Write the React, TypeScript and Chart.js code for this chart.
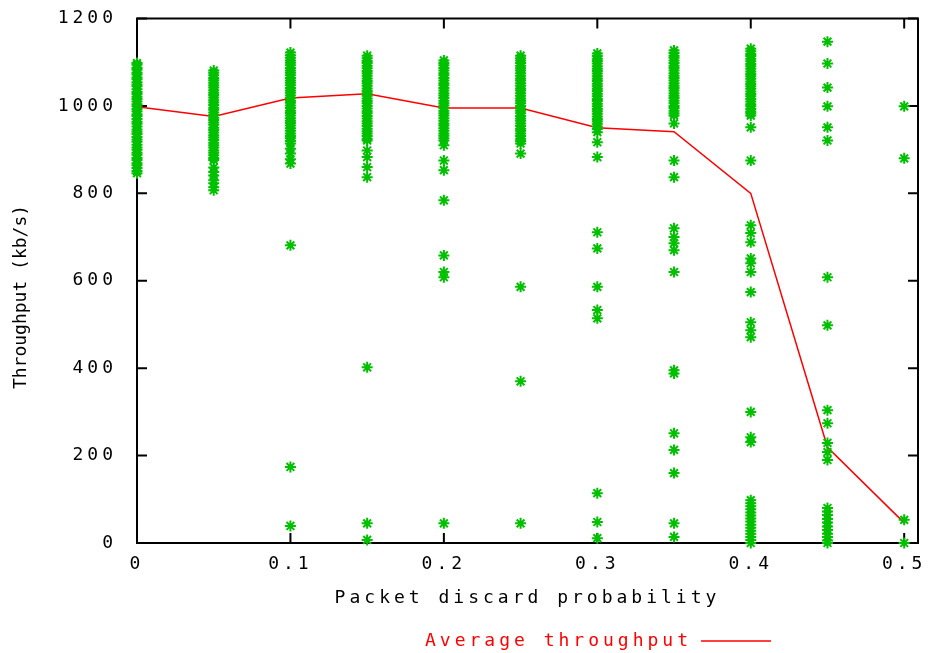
import React, { useEffect, useRef } from "react";
import { Chart, registerables } from "chart.js";

Chart.register(...registerables);

// ---- data ----
const xTickValues = [0, 0.1, 0.2, 0.3, 0.4, 0.5];
const yTickStep = 200;

const avgX = [0, 0.05, 0.1, 0.15, 0.2, 0.25, 0.3, 0.35, 0.4, 0.45, 0.5];
const avgThroughput = [998, 976, 1018, 1028, 995, 995, 950, 941, 800, 219, 46];

const samplesAt000 = [1098, 1094, 1087, 1083, 1076, 1072, 1065, 1061, 1054, 1049, 1045, 1038, 1032, 1027, 1021, 1016, 1010, 1004, 999, 993, 988, 981, 977, 970, 964, 959, 953, 946, 941, 936, 929, 923, 918, 911, 905, 900, 893, 888, 881, 876, 869, 864, 858, 851, 846];
const samplesAt005 = [1081, 1076, 1070, 1064, 1059, 1053, 1047, 1042, 1036, 1030, 1025, 1019, 1013, 1008, 1002, 996, 991, 985, 979, 973, 968, 962, 957, 950, 945, 939, 933, 928, 922, 916, 910, 905, 898, 893, 887, 881, 876, 859, 849, 841, 830, 823, 814, 807];
const samplesAt010 = [1122, 1116, 1110, 1104, 1099, 1093, 1087, 1081, 1076, 1070, 1064, 1058, 1053, 1047, 1041, 1035, 1030, 1024, 1018, 1012, 1007, 1001, 995, 989, 984, 978, 972, 966, 961, 955, 949, 943, 937, 931, 926, 920, 914, 902, 891, 878, 868, 681, 174, 39];
const samplesAt015 = [1115, 1109, 1103, 1098, 1092, 1086, 1080, 1075, 1069, 1063, 1057, 1052, 1046, 1040, 1034, 1029, 1023, 1017, 1011, 1006, 1000, 994, 988, 983, 977, 971, 965, 960, 954, 948, 942, 937, 931, 925, 921, 898, 883, 860, 837, 402, 45, 7];
const samplesAt020 = [1104, 1098, 1093, 1087, 1081, 1075, 1070, 1064, 1058, 1052, 1047, 1041, 1035, 1029, 1024, 1018, 1012, 1006, 1001, 995, 989, 983, 978, 972, 966, 960, 955, 949, 943, 937, 932, 926, 921, 910, 875, 853, 784, 658, 620, 608, 45];
const samplesAt025 = [1115, 1109, 1104, 1098, 1092, 1086, 1081, 1075, 1069, 1063, 1058, 1052, 1046, 1040, 1035, 1029, 1023, 1017, 1012, 1006, 1000, 994, 989, 983, 977, 971, 966, 960, 954, 948, 943, 937, 931, 925, 920, 914, 891, 586, 370, 45];
const samplesAt030 = [1120, 1114, 1108, 1103, 1097, 1091, 1085, 1080, 1074, 1068, 1062, 1057, 1051, 1045, 1039, 1034, 1028, 1022, 1016, 1011, 1005, 999, 993, 988, 982, 976, 970, 965, 959, 953, 947, 940, 917, 883, 711, 674, 586, 533, 514, 114, 48, 11];
const samplesAt035 = [1127, 1121, 1115, 1110, 1104, 1098, 1092, 1087, 1081, 1075, 1069, 1064, 1058, 1052, 1046, 1041, 1035, 1029, 1023, 1018, 1012, 1006, 1000, 995, 989, 983, 978, 960, 875, 837, 720, 700, 686, 670, 620, 395, 388, 251, 213, 160, 45, 14];
const samplesAt040 = [1131, 1125, 1119, 1114, 1108, 1102, 1096, 1091, 1085, 1079, 1073, 1068, 1062, 1056, 1050, 1045, 1039, 1033, 1027, 1022, 1016, 1010, 1004, 999, 993, 987, 983, 978, 951, 875, 727, 709, 688, 651, 640, 620, 574, 505, 487, 471, 300, 242, 231, 98, 91, 84, 77, 70, 63, 56, 49, 42, 35, 28, 21, 14, 7, 0];
const samplesAt045 = [1147, 1097, 1042, 999, 951, 921, 608, 498, 304, 274, 229, 208, 190, 80, 72, 64, 55, 47, 38, 30, 21, 14, 6, 0];
const samplesAt050 = [999, 880, 53, 0];

const sampleColumns: [number, number[]][] = [
  [0, samplesAt000],
  [0.05, samplesAt005],
  [0.1, samplesAt010],
  [0.15, samplesAt015],
  [0.2, samplesAt020],
  [0.25, samplesAt025],
  [0.3, samplesAt030],
  [0.35, samplesAt035],
  [0.4, samplesAt040],
  [0.45, samplesAt045],
  [0.5, samplesAt050],
];

const xTitle = "Packet discard probability";
const yTitle = "Throughput (kb/s)   ";
const lineLabel = "Average throughput";

// ---- styling ----
const FONT_FAMILY = "'DejaVu Sans Mono', monospace";
const GREEN = "#00c000";
const RED = "#ff0000";

const textPlugin = {
  id: "textSpacing",
  beforeLayout(chart: any) {
    chart.ctx.letterSpacing = "4px";
  },
  afterLayout(chart: any) {
    const lg = chart.legend;
    if (!lg) return;
    const pad = 10;
    const dx = 593 - (lg.left + lg.right - pad) / 2;
    lg.left += dx;
    lg.right += dx;
    const dy = 641 - (lg.top + pad + 9);
    lg.top += dy;
    lg.bottom += dy;
  },
  beforeDraw(chart: any) {
    chart.ctx.letterSpacing = "4px";
  },
  beforeDatasetsDraw(chart: any) {
    const { ctx, chartArea: a, scales } = chart;
    ctx.save();
    ctx.strokeStyle = "#000";
    ctx.lineWidth = 2;
    ctx.strokeRect(a.left, a.top, a.right - a.left, a.bottom - a.top);
    ctx.beginPath();
    const tl = 10;
    for (const t of scales.x.ticks) {
      const px = scales.x.getPixelForValue(t.value);
      ctx.moveTo(px, a.bottom);
      ctx.lineTo(px, a.bottom - tl);
      ctx.moveTo(px, a.top);
      ctx.lineTo(px, a.top + tl);
    }
    for (const t of scales.y.ticks) {
      const py = scales.y.getPixelForValue(t.value);
      ctx.moveTo(a.left, py);
      ctx.lineTo(a.left + tl, py);
      ctx.moveTo(a.right, py);
      ctx.lineTo(a.right - tl, py);
    }
    ctx.stroke();
    ctx.restore();
  },
  afterDatasetsDraw(chart: any) {
    // the y title (drawn after datasets) uses tighter spacing
    chart.ctx.letterSpacing = "0px";
  },
};

export default function App() {
  const ref = useRef<HTMLCanvasElement>(null);

  useEffect(() => {
    const canvas = ref.current;
    if (!canvas) return;

    const scatterPoints: { x: number; y: number }[] = [];
    for (const [x, values] of sampleColumns) {
      for (const v of values) scatterPoints.push({ x, y: v });
    }
    const avgPoints = avgX.map((x, i) => ({ x, y: avgThroughput[i] }));

    const font = { family: FONT_FAMILY, size: 18 };

    const chart = new Chart(canvas, {
      type: "scatter",
      data: {
        datasets: [
          {
            label: "samples",
            data: scatterPoints,
            pointStyle: "star",
            pointRadius: 5.5,
            pointHoverRadius: 5.5,
            borderWidth: 2,
            borderColor: GREEN,
            backgroundColor: GREEN,
            clip: false,
          } as any,
          {
            type: "line",
            label: lineLabel,
            data: avgPoints,
            borderColor: RED,
            backgroundColor: RED,
            borderWidth: 1.5,
            pointRadius: 0,
            pointHoverRadius: 0,
            showLine: true,
            fill: false,
            tension: 0,
          } as any,
        ],
      },
      options: {
        responsive: false,
        animation: false,
        layout: { padding: { top: 18.5, right: 16, left: 0, bottom: 0 } },
        scales: {
          x: {
            type: "linear",
            min: 0,
            max: 0.509,
            grid: { display: false, drawTicks: false },
            border: { display: false },
            afterBuildTicks: (scale: any) => {
              scale.ticks = xTickValues.map((v) => ({ value: v }));
            },
            afterFit: (scale: any) => {
              scale.height = 72;
              scale.paddingLeft = 0;
              scale.paddingRight = 0;
            },
            ticks: {
              color: "#000",
              font,
              padding: 11,
              maxRotation: 0,
              autoSkip: false,
              callback: (v: any) => String(v),
            },
            title: {
              display: true,
              text: xTitle,
              color: "#000",
              font,
              padding: { top: 0, bottom: 6 },
            },
          },
          y: {
            type: "linear",
            min: 0,
            max: 1200,
            grid: { display: false, drawTicks: false, z: 1 },
            border: { display: false },
            afterFit: (scale: any) => {
              scale.width = 137;
              scale.paddingTop = 0;
              scale.paddingBottom = 0;
            },
            ticks: {
              stepSize: yTickStep,
              color: "#000",
              font,
              padding: 20,
              callback: (v: any) => String(v),
            },
            title: {
              display: true,
              text: yTitle,
              color: "#000",
              font,
              padding: { top: 11, bottom: 0 },
            },
          },
        },
        plugins: {
          tooltip: { enabled: false },
          legend: {
            display: true,
            position: "bottom",
            rtl: true,
            textDirection: "ltr",
            labels: {
              usePointStyle: true,
              pointStyle: "line",
              pointStyleWidth: 70,
              color: RED,
              font,
              padding: 10,
              filter: (item: any) => item.datasetIndex === 1,
            },
          } as any,
        },
      },
      plugins: [textPlugin as any],
    });

    return () => chart.destroy();
  }, []);

  return (
    <div style={{ position: "absolute", left: 0, top: 0, width: 934, height: 653, background: "#fff" }}>
      <canvas ref={ref} width={934} height={653} style={{ display: "block", width: 934, height: 653 }} />
    </div>
  );
}
